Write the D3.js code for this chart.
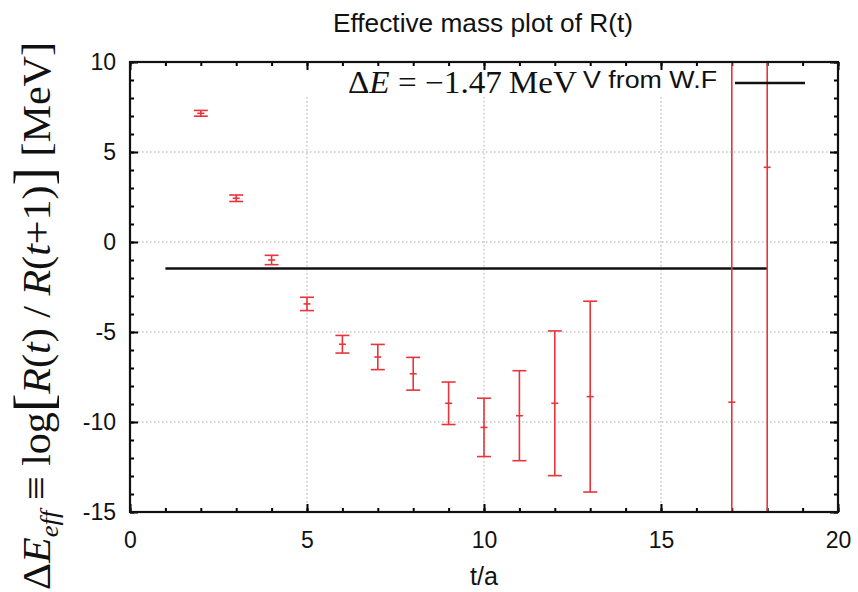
<!DOCTYPE html>
<html>
<head>
<meta charset="utf-8">
<script src="https://cdn.jsdelivr.net/npm/d3@7"></script>
<style>
  body { margin: 0; background: #fff; }
  svg { display: block; }
</style>
</head>
<body>
<div id="chart"></div>
<script>
// data
const tVals = [2, 3, 4, 5, 6, 7, 8, 9, 10, 11, 12, 13, 17, 18];
const meanVals = [7.15, 2.43, -1.0, -3.44, -5.68, -6.39, -7.32, -8.96, -10.3, -9.65, -8.96, -8.59, -8.9, 4.15];
const errVals = [0.16, 0.18, 0.26, 0.37, 0.49, 0.7, 0.91, 1.18, 1.62, 2.5, 4.02, 5.3, 40, 40];
const fitValue = -1.47;
const fitRange = [1, 18];
const xTicks = [0, 5, 10, 15, 20];
const yTicks = [-15, -10, -5, 0, 5, 10];

const points = tVals.map((t, i) => ({ t: t, m: meanVals[i], e: errVals[i] }));

const margin = { top: 62, right: 20, bottom: 80, left: 130 };
const width = 858 - margin.left - margin.right;
const height = 592 - margin.top - margin.bottom;
const red = "#e8343a";
const sans = "'Liberation Sans', Arial, sans-serif";
const serif = "'Liberation Serif', 'Times New Roman', serif";

const root = d3.select("#chart")
    .append("svg")
    .attr("width", 858)
    .attr("height", 592);

const svg = root.append("g")
    .attr("transform", "translate(" + margin.left + "," + margin.top + ")");

const x = d3.scaleLinear().domain([0, 20]).range([0, width]);
const y = d3.scaleLinear().domain([-15, 10]).range([height, 0]);

svg.append("clipPath").attr("id", "clip")
    .append("rect").attr("width", width).attr("height", height);

// grid (dotted)
const keyBottom = 35;
svg.selectAll(".vgrid")
    .data(xTicks.filter(d => d > 0 && d < 20))
    .enter().append("line")
    .attr("x1", d => x(d)).attr("x2", d => x(d))
    .attr("y1", keyBottom).attr("y2", height)
    .attr("stroke", "#aaa").attr("stroke-width", 1).attr("stroke-dasharray", "1.5,2.5");
svg.selectAll(".hgrid")
    .data(yTicks.filter(d => d > -15 && d < 10))
    .enter().append("line")
    .attr("x1", 0).attr("x2", width)
    .attr("y1", d => y(d)).attr("y2", d => y(d))
    .attr("stroke", "#aaa").attr("stroke-width", 1).attr("stroke-dasharray", "1.5,2.5");

// axes with inward ticks on all four sides
function styleAxis(g) {
    g.select(".domain").remove();
    g.selectAll(".tick line").attr("stroke", "#000").attr("stroke-width", 2);
    g.selectAll(".tick text").attr("font-family", sans).attr("font-size", 23).attr("fill", "#111");
}
const minorX = d3.range(0, 21, 1);
const minorY = d3.range(-15, 11, 1);
const plain = d => String(d);

svg.append("g").attr("transform", "translate(0," + height + ")")
    .call(d3.axisBottom(x).tickValues(minorX).tickSize(-4).tickFormat(""))
    .call(styleAxis);
svg.append("g").attr("transform", "translate(0," + height + ")")
    .call(d3.axisBottom(x).tickValues(xTicks).tickSize(-8).tickPadding(20).tickFormat(plain))
    .call(styleAxis);
svg.append("g")
    .call(d3.axisTop(x).tickValues(minorX).tickSize(-4).tickFormat(""))
    .call(styleAxis);
svg.append("g")
    .call(d3.axisTop(x).tickValues(xTicks).tickSize(-8).tickFormat(""))
    .call(styleAxis);
svg.append("g")
    .call(d3.axisLeft(y).tickValues(minorY).tickSize(-4).tickFormat(""))
    .call(styleAxis);
svg.append("g")
    .call(d3.axisLeft(y).tickValues(yTicks).tickSize(-8).tickPadding(14).tickFormat(plain))
    .call(styleAxis);
svg.append("g").attr("transform", "translate(" + width + ",0)")
    .call(d3.axisRight(y).tickValues(minorY).tickSize(-4).tickFormat(""))
    .call(styleAxis);
svg.append("g").attr("transform", "translate(" + width + ",0)")
    .call(d3.axisRight(y).tickValues(yTicks).tickSize(-8).tickFormat(""))
    .call(styleAxis);

// fit line
svg.append("line")
    .attr("x1", x(fitRange[0])).attr("x2", x(fitRange[1]))
    .attr("y1", y(fitValue)).attr("y2", y(fitValue))
    .attr("stroke", "#111").attr("stroke-width", 2.5);

// error bars
const bars = svg.append("g").attr("clip-path", "url(#clip)");
const cap = 7;
bars.selectAll(".ebar")
    .data(points).enter().append("line")
    .attr("x1", d => x(d.t)).attr("x2", d => x(d.t))
    .attr("y1", d => y(d.m - d.e)).attr("y2", d => y(d.m + d.e))
    .attr("stroke", red).attr("stroke-width", 1.6);
bars.selectAll(".capTop")
    .data(points.filter(d => d.e < 20)).enter().append("line")
    .attr("x1", d => x(d.t) - cap).attr("x2", d => x(d.t) + cap)
    .attr("y1", d => y(d.m + d.e)).attr("y2", d => y(d.m + d.e))
    .attr("stroke", red).attr("stroke-width", 1.6);
bars.selectAll(".capBot")
    .data(points.filter(d => d.e < 20)).enter().append("line")
    .attr("x1", d => x(d.t) - cap).attr("x2", d => x(d.t) + cap)
    .attr("y1", d => y(d.m - d.e)).attr("y2", d => y(d.m - d.e))
    .attr("stroke", red).attr("stroke-width", 1.6);
// "+" point markers
bars.selectAll(".mark")
    .data(points).enter().append("line")
    .attr("x1", d => x(d.t) - 3.5).attr("x2", d => x(d.t) + 3.5)
    .attr("y1", d => y(d.m)).attr("y2", d => y(d.m))
    .attr("stroke", red).attr("stroke-width", 1.6);

// frame
svg.append("rect")
    .attr("width", width).attr("height", height)
    .attr("fill", "none").attr("stroke", "#111").attr("stroke-width", 2.2);

// key
const key = svg.append("g");
const keyText = key.append("text")
    .attr("x", 218).attr("y", 31)
    .attr("font-family", serif).attr("font-size", 31).attr("fill", "#111")
    .attr("textLength", 229).attr("lengthAdjust", "spacingAndGlyphs");
keyText.append("tspan").text("\u0394");
keyText.append("tspan").attr("font-style", "italic").text("E");
keyText.append("tspan").text(" = \u22121.47\u2009MeV");
key.append("text")
    .attr("x", 453).attr("y", 26)
    .attr("font-family", sans).attr("font-size", 23).attr("fill", "#111")
    .attr("textLength", 134).attr("lengthAdjust", "spacingAndGlyphs")
    .text("V from W.F");
key.append("line")
    .attr("x1", 605).attr("x2", 675).attr("y1", 21).attr("y2", 21)
    .attr("stroke", "#111").attr("stroke-width", 2.5);

// title
root.append("text")
    .attr("x", 483).attr("y", 32)
    .attr("text-anchor", "middle")
    .attr("font-family", sans).attr("font-size", 26).attr("fill", "#111")
    .attr("textLength", 300).attr("lengthAdjust", "spacingAndGlyphs")
    .text("Effective mass plot of R(t)");

// x label
root.append("text")
    .attr("x", 484).attr("y", 585)
    .attr("text-anchor", "middle")
    .attr("font-family", sans).attr("font-size", 25).attr("fill", "#111")
    .text("t/a");

// y label (rotated, serif with italics)
const yl = root.append("text")
    .attr("transform", "translate(50,316) rotate(-90)")
    .attr("text-anchor", "middle")
    .attr("font-family", serif).attr("font-size", 41).attr("fill", "#111")
    .attr("textLength", 548).attr("lengthAdjust", "spacingAndGlyphs");
yl.append("tspan").text("\u0394");
yl.append("tspan").attr("font-style", "italic").text("E");
yl.append("tspan").attr("font-style", "italic").attr("font-size", 26).attr("dy", 8).text("eff");
yl.append("tspan").attr("dy", -8).text(" \u2261 log");
yl.append("tspan").attr("font-size", 54).attr("dy", 2).text("[");
yl.append("tspan").attr("font-style", "italic").attr("dy", -2).text("R");
yl.append("tspan").text("(");
yl.append("tspan").attr("font-style", "italic").text("t");
yl.append("tspan").text(") / ");
yl.append("tspan").attr("font-style", "italic").text("R");
yl.append("tspan").text("(");
yl.append("tspan").attr("font-style", "italic").text("t");
yl.append("tspan").text("+1)");
yl.append("tspan").attr("font-size", 54).attr("dy", 2).text("]");
yl.append("tspan").attr("dy", -2).text(" [MeV]");
</script>
</body>
</html>
